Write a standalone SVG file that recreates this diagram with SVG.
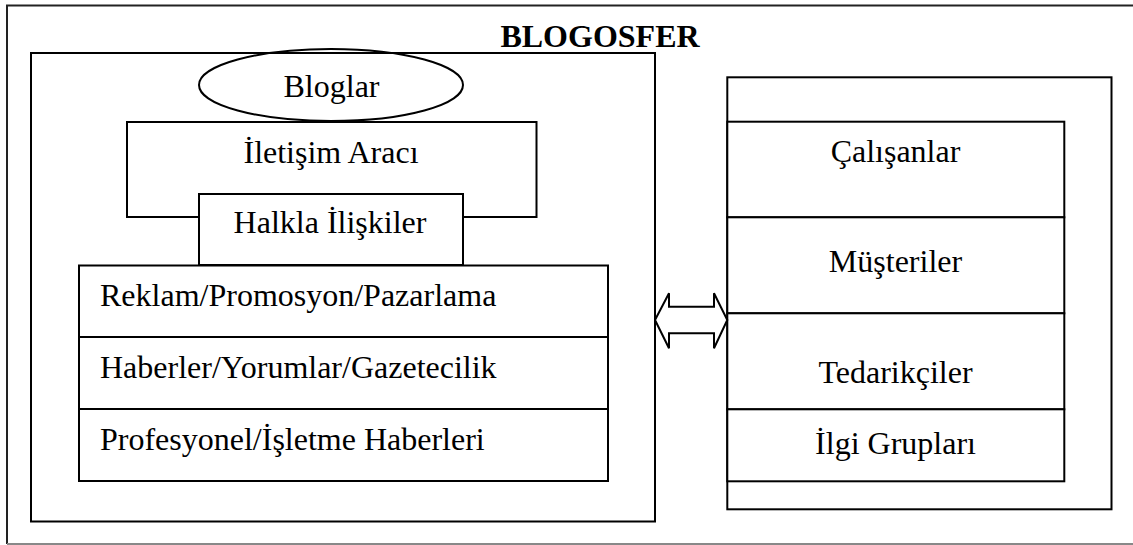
<svg xmlns="http://www.w3.org/2000/svg" width="1133" height="545" viewBox="0 0 1133 545">
<style>
.box{fill:none;stroke:#000;stroke-width:2}
.wbox{fill:#fff;stroke:#000;stroke-width:2}
.t{font-family:"Liberation Serif","Times New Roman",serif;font-size:32px;fill:#000}
.c{text-anchor:middle}
.b{font-weight:bold}
</style>
<rect width="1133" height="545" fill="#fff"/>
<g id="frame">
<path d="M1140,5.5 H7 V544" fill="none" stroke="#222" stroke-width="2"/>
<line x1="7" y1="544" x2="1133" y2="544" stroke="#888" stroke-width="2"/>
<text class="t b c" x="600" y="46.7">BLOGOSFER</text>
</g>
<g id="left-group">
<rect class="box" x="31" y="53" width="624" height="468.5"/>
</g>
<g id="bloglar">
<ellipse class="box" cx="331" cy="85" rx="132" ry="36"/>
<text class="t c" x="331.5" y="97.3">Bloglar</text>
</g>
<g id="iletisim">
<rect class="wbox" x="127" y="122" width="409.5" height="95"/>
<text class="t c" x="331" y="162.7">İletişim Aracı</text>
</g>
<g id="halkla">
<rect class="wbox" x="199" y="194" width="264" height="71"/>
<text class="t c" x="330" y="232.7">Halkla İlişkiler</text>
</g>
<g id="reklam">
<rect class="wbox" x="79" y="265.5" width="529" height="71.5"/>
<text class="t" x="100" y="305.7">Reklam/Promosyon/Pazarlama</text>
</g>
<g id="haberler">
<rect class="wbox" x="79" y="337" width="529" height="72"/>
<text class="t" x="100" y="377.7">Haberler/Yorumlar/Gazetecilik</text>
</g>
<g id="profesyonel">
<rect class="wbox" x="79" y="409" width="529" height="72"/>
<text class="t" x="100" y="450">Profesyonel/İşletme Haberleri</text>
</g>
<g id="right-group">
<rect class="box" x="727.3" y="77.3" width="384.2" height="432"/>
</g>
<g id="calisanlar">
<rect class="wbox" x="727.3" y="121.7" width="337" height="95.6"/>
<text class="t c" x="895.5" y="162.3">Çalışanlar</text>
</g>
<g id="musteriler">
<rect class="wbox" x="727.3" y="217.3" width="337" height="96"/>
<text class="t c" x="895.5" y="272">Müşteriler</text>
</g>
<g id="tedarikciler">
<rect class="wbox" x="727.3" y="313.3" width="337" height="96"/>
<text class="t c" x="895.5" y="382.7">Tedarikçiler</text>
</g>
<g id="ilgi">
<rect class="wbox" x="727.3" y="409.3" width="337" height="72"/>
<text class="t c" x="895.5" y="454">İlgi Grupları</text>
</g>
<g id="connectors">
<polygon points="655,320 669,293.3 669,306.7 714,306.7 714,293.3 727.3,320 714,348.3 714,333.3 669,333.3 669,348.3" fill="#fff" stroke="#000" stroke-width="2" stroke-linejoin="miter"/>
</g>
</svg>
